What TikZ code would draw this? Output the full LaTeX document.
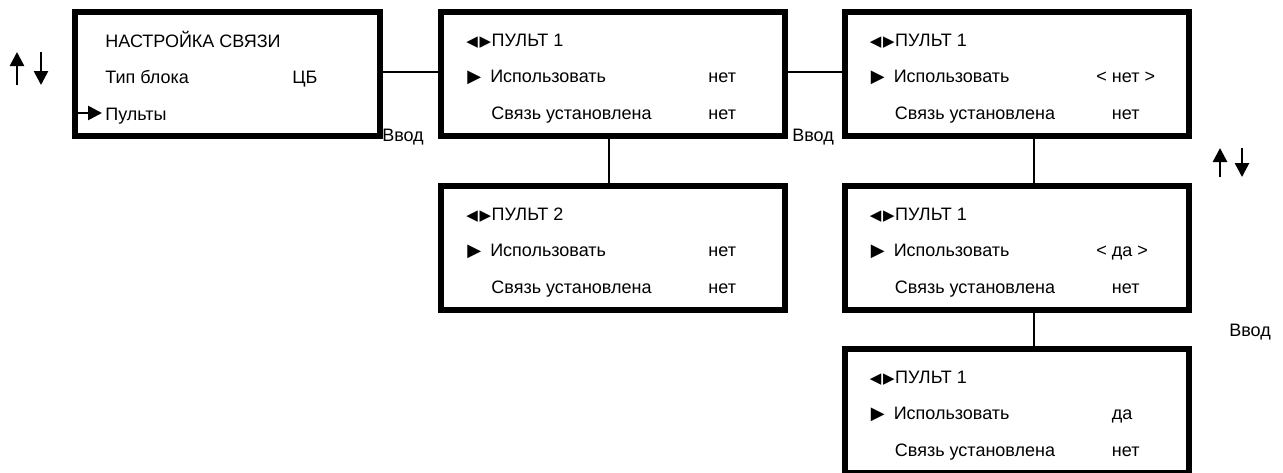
\documentclass[tikz,border=0pt]{standalone}
\usepackage{fontspec}
\setmainfont{Liberation Sans}
\newfontfamily\symfont{DejaVu Sans}
\usetikzlibrary{arrows.meta,positioning,calc}

\begin{document}
\begin{tikzpicture}[x=0.5pt, y=-0.5pt,
    scr/.style={draw, line width=3pt, minimum width=172pt, minimum height=62pt,
                inner sep=0pt},
    txt/.style={anchor=base west, inner sep=0pt, font=\fontsize{9}{11}\selectfont},
    lnk/.style={line width=1pt},
    nav/.style={line width=1.3pt, -{Triangle[length=7pt, width=7pt]}}
  ]
  \useasboundingbox (0,0) rectangle (1283,472);
  % Screens
  \node[scr, minimum width=152.5pt] (setup) at (227.5,74) {};
  \node[scr] (pult1)  at (613,74) {};
  \node[scr] (pult2)  at (613,248) {};
  \node[scr] (edit)   at (1016.5,74) {};
  \node[scr] (chosen) at (1016.5,248) {};
  \node[scr] (saved)  at (1016.5,411) {};
  % First screen
  \node[txt] (setup-title) at ($(setup.north west)+(33,38)$) {НАСТРОЙКА СВЯЗИ};
  \node[txt] (setup-type)  at ($(setup.north west)+(33,74)$) {Тип блока};
  \node[txt] (setup-cb)    at ($(setup.north west)+(220,74)$) {ЦБ};
  \node[txt] (setup-pults) at ($(setup.north west)+(33,111)$) {Пульты};
  \draw[nav] ($(setup.north west)+(6,104)$) -- ($(setup.north west)+(30,104)$);
  % Remote screens
  \foreach \s/\n/\v in {pult1/1/нет, pult2/2/нет, edit/1/{\llap{< }нет >},
                        chosen/1/{\llap{< }да >}, saved/1/да} {
    \node[txt] (\s-name) at ($(\s.north west)+(28,37)$)
      {{\symfont\fontsize{7.5}{8}\selectfont ◀\kern0.8pt▶}\kern0.3pt ПУЛЬТ \n};
    \node[txt] (\s-use) at ($(\s.north west)+(29,73)$)
      {{\symfont\fontsize{9}{11}\selectfont ▶}\kern4.5pt Использовать};
    \node[txt] (\s-val) at ($(\s.north west)+(270,73)$) {\v};
    \node[txt] (\s-link) at ($(\s.north west)+(53,110)$) {Связь установлена};
    \node[txt] (\s-linkval) at ($(\s.north west)+(270,110)$) {нет};
  }
  % Links
  \draw[lnk] ([yshift=1pt]setup.east) -- ([yshift=1pt]pult1.west);
  \draw[lnk] ([yshift=1pt]pult1.east) -- ([yshift=1pt]edit.west);
  \draw[lnk] ([xshift=-2pt]pult1.south) -- ([xshift=-2pt]pult2.north);
  \draw[lnk] ([xshift=8.5pt]edit.south) -- ([xshift=8.5pt]chosen.north);
  \draw[lnk] ([xshift=8.5pt]chosen.south) -- ([xshift=8.5pt]saved.north);
  % Keys
  \node[txt, anchor=center] (enter1) at (403,137) {Ввод};
  \node[txt, anchor=center] (enter2) at (813,137) {Ввод};
  \node[txt, anchor=center] (enter3) at (1250,332) {Ввод};
  \draw[nav] (17,85) -- (17,52);
  \draw[nav] (41,52) -- (41,85);
  \draw[nav] (1220,177) -- (1220,148);
  \draw[nav] (1242,148) -- (1242,177);
\end{tikzpicture}
\end{document}
